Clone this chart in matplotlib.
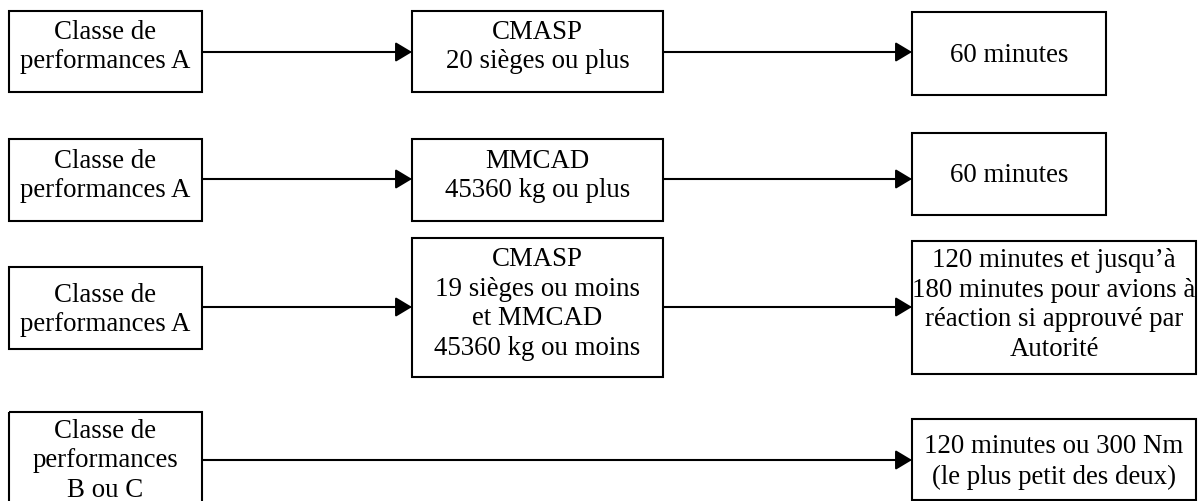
import matplotlib
matplotlib.use("Agg")
from matplotlib import pyplot as plt
from matplotlib.patches import Rectangle

# textes des boites (gauche -> milieu -> droite)
left_labels = ["Classe de\nperformances A",
               "Classe de\nperformances A",
               "Classe de\nperformances A",
               "Classe de\nperformances\nB ou C"]
middle_labels = ["CMASP\n20 sièges ou plus",
                 "MMCAD\n45360 kg ou plus",
                 "CMASP\n19 sièges ou moins\net MMCAD\n45360 kg ou moins",
                 None]
right_labels = ["60 minutes",
                "60 minutes",
                "120 minutes et jusqu’à\n180 minutes pour avions à\nréaction si approuvé par\nAutorité",
                "120 minutes ou 300 Nm\n(le plus petit des deux)"]

# mise en page en pixels (x0, x1, y0, y1, y du texte)
left_boxes = [(9, 202, 12, 93, 47), (9, 202, 140, 222, 176),
              (9, 202, 268, 350, 310), (9, 202, 413, 506, 461)]
middle_boxes = [(412, 663, 12, 93, 47), (412, 663, 140, 222, 176),
                (412, 663, 239, 378, 304), None]
right_boxes = [(912, 1106, 13, 96, 55), (912, 1106, 134, 216, 176),
               (912, 1196, 242, 375, 305), (912, 1196, 420, 501, 462)]
arrow_y = [53, 180, 308, 461]

fig = plt.figure(figsize=(11.98, 5.02), dpi=100)
ax = fig.add_axes([0, 0, 1, 1])
ax.set_xlim(0, 1198)
ax.set_ylim(502, 0)
ax.axis('off')

def boite(b, txt):
    x0, x1, y0, y1, ty = b
    ax.add_patch(Rectangle((x0, y0), x1 - x0, y1 - y0, fill=False,
                           edgecolor='black', linewidth=1.5))
    ax.text((x0 + x1) / 2, ty, txt, ha='center', va='center',
            multialignment='center', fontsize=19.4,
            family='Liberation Serif', linespacing=1.26)

def fleche(xa, xb, y):
    ax.annotate('', xy=(xb, y), xytext=(xa, y),
                arrowprops=dict(arrowstyle='-|>,head_length=0.5,head_width=0.3',
                                mutation_scale=20, color='black', lw=1.5,
                                shrinkA=0, shrinkB=0))

for i in range(4):
    boite(left_boxes[i], left_labels[i])
    boite(right_boxes[i], right_labels[i])
    if middle_labels[i] is not None:
        boite(middle_boxes[i], middle_labels[i])
        fleche(left_boxes[i][1], middle_boxes[i][0], arrow_y[i])
        fleche(middle_boxes[i][1], right_boxes[i][0], arrow_y[i])
    else:
        fleche(left_boxes[i][1], right_boxes[i][0], arrow_y[i])

fig.savefig('out.png', dpi=100)
